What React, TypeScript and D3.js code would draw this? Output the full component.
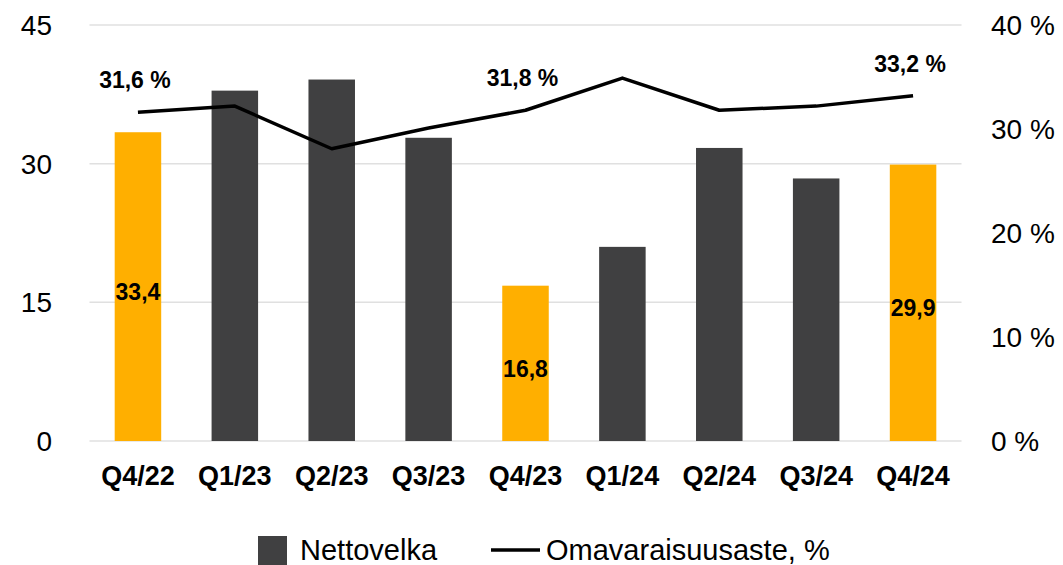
import React from "react";
import * as d3 from "d3";

const categories = ["Q4/22", "Q1/23", "Q2/23", "Q3/23", "Q4/23", "Q1/24", "Q2/24", "Q3/24", "Q4/24"];
const netDebt = [33.4, 37.9, 39.1, 32.8, 16.8, 21.0, 31.7, 28.4, 29.9];
const equityRatio = [31.6, 32.2, 28.1, 30.1, 31.8, 34.9, 31.8, 32.2, 33.2];
const highlighted = [true, false, false, false, true, false, false, false, true];
const barLabels = ["33,4", "", "", "", "16,8", "", "", "", "29,9"];
const lineLabels = ["31,6 %", "", "", "", "31,8 %", "", "", "", "33,2 %"];
const leftTicks = [0, 15, 30, 45];
const rightTicks = [0, 10, 20, 30, 40];
const legendLabels = ["Nettovelka", "Omavaraisuusaste, %"];

const W = 1063;
const H = 565;
const X0 = 89.5;
const X1 = 961.5;
const Y0 = 441;
const Y1 = 25;
const DARK = "#404041";
const ORANGE = "#FFAF00";
const FONT = "Liberation Sans, Arial, sans-serif";

export default function App() {
  const x = d3.scaleBand<string>().domain(categories).range([X0, X1]).paddingInner(0.52).paddingOuter(0.26);
  const yL = d3.scaleLinear().domain([0, 45]).range([Y0, Y1]);
  const yR = d3.scaleLinear().domain([0, 40]).range([Y0, Y1]);
  const cx = (c: string) => (x(c) ?? 0) + x.bandwidth() / 2;
  const line = d3
    .line<number>()
    .x((_, i) => cx(categories[i]))
    .y((d) => yR(d));

  return (
    <svg width={W} height={H} style={{ position: "absolute", left: 0, top: 0, background: "#fff" }} fontFamily={FONT}>
      {leftTicks.map((t) => (
        <g key={"g" + t}>
          <line x1={X0} x2={X1} y1={yL(t)} y2={yL(t)} stroke="#e0e0e0" strokeWidth={1.5} />
          <text x={52} y={yL(t)} dy="0.36em" textAnchor="end" fontSize={28} fill="#000">
            {t}
          </text>
        </g>
      ))}
      {rightTicks.map((t) => (
        <text key={"r" + t} x={991} y={yR(t)} dy="0.36em" textAnchor="start" fontSize={28} fill="#000">
          {t + " %"}
        </text>
      ))}
      {categories.map((c, i) => (
        <rect
          key={"b" + c}
          x={x(c)}
          y={yL(netDebt[i])}
          width={x.bandwidth()}
          height={Y0 - yL(netDebt[i])}
          fill={highlighted[i] ? ORANGE : DARK}
        />
      ))}
      {categories.map((c, i) =>
        barLabels[i] ? (
          <text
            key={"bl" + c}
            x={cx(c)}
            y={(yL(netDebt[i]) + Y0) / 2 + 5}
            dy="0.36em"
            textAnchor="middle"
            fontSize={23}
            fontWeight="bold"
            fill="#000"
          >
            {barLabels[i]}
          </text>
        ) : null
      )}
      <path d={line(equityRatio) ?? ""} fill="none" stroke="#000" strokeWidth={3.5} strokeLinejoin="round" />
      {categories.map((c, i) =>
        lineLabels[i] ? (
          <text
            key={"ll" + c}
            x={cx(c) - 3}
            y={yR(equityRatio[i]) - 24}
            textAnchor="middle"
            fontSize={23}
            fontWeight="bold"
            fill="#000"
          >
            {lineLabels[i]}
          </text>
        ) : null
      )}
      {categories.map((c) => (
        <text key={"x" + c} x={cx(c)} y={485} textAnchor="middle" fontSize={27} fontWeight="bold" fill="#000">
          {c}
        </text>
      ))}
      <rect x={258} y={536} width={29} height={29} fill={DARK} />
      <text x={300} y={560} fontSize={29} fill="#000">
        {legendLabels[0]}
      </text>
      <line x1={491} x2={540} y1={550} y2={550} stroke="#000" strokeWidth={3.5} />
      <text x={546} y={560} fontSize={29} fill="#000">
        {legendLabels[1]}
      </text>
    </svg>
  );
}
